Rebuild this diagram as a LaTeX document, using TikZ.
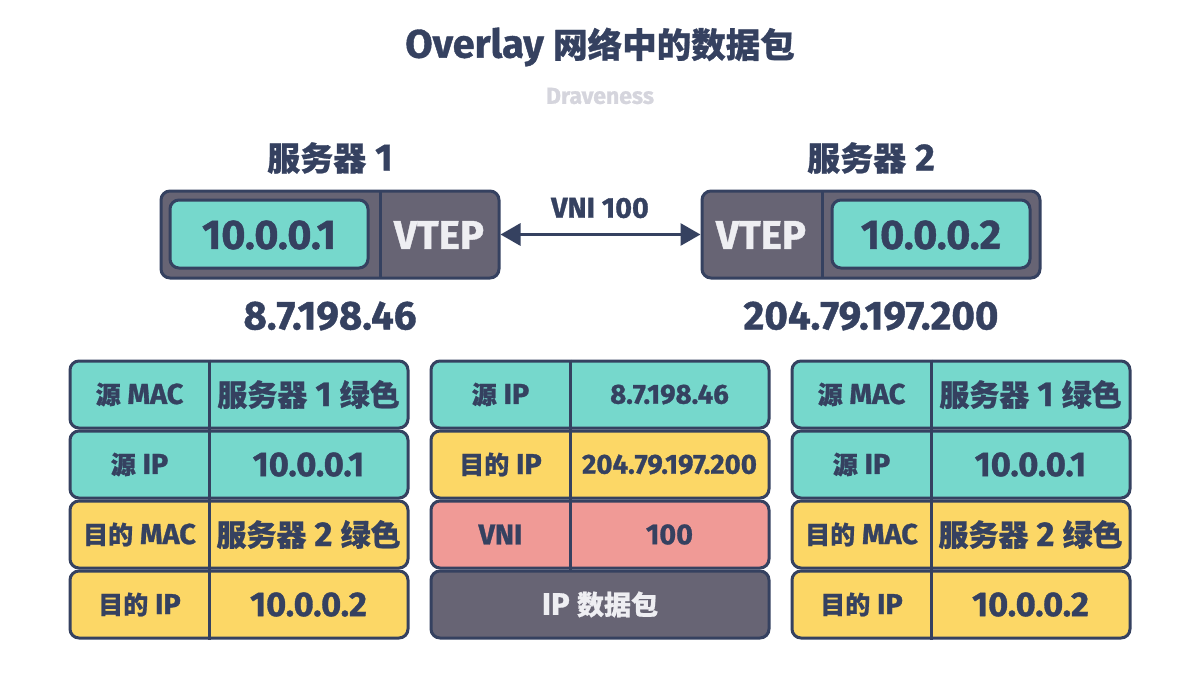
\documentclass[tikz,border=0pt]{standalone}
\usepackage{fontspec}
\setmainfont{Fira Sans}[Scale=1.15, BoldFeatures={FakeBold=1}]
\newfontfamily\cjk{Noto Sans CJK SC}[BoldFeatures={FakeBold=0.8}]
\usetikzlibrary{arrows.meta,calc}
\definecolor{navy}{HTML}{354160}
\definecolor{tealfill}{HTML}{76D8CC}
\definecolor{yellowfill}{HTML}{FCD766}
\definecolor{pinkfill}{HTML}{F09A96}
\definecolor{grayfill}{HTML}{676474}
\definecolor{lighttext}{HTML}{EEEEF2}
\definecolor{subtitle}{HTML}{D5D5DD}
\newcommand\zh[1]{{\cjk #1}}
\newcommand\fs[1]{\bfseries\fontsize{#1}{#1}\selectfont}
\tikzset{
	box/.style={draw=navy, line width=3pt, rounded corners=9pt, inner sep=0pt},
	cell/.style={box, minimum width=338pt, minimum height=67pt},
	divider/.style={draw=navy, line width=3pt},
	lab/.style={text=navy, inner sep=0pt, font=\fs{25}},
	val/.style={text=navy, inner sep=0pt, font=\fs{30}},
}
% one row of a packet table: name, x, y, fill, left text, right text
\newcommand\pktrow[6]{%
	\node[cell, fill=#4] (#1) at (#2,#3) {};
	\draw[divider] ($(#1.north)+(-30,0)$) -- ($(#1.south)+(-30,0)$);
	\node[lab] (#1-l) at ($(#1.center)+(-99.5,0)$) {#5};
	\node[val] (#1-r) at ($(#1.center)+(69.5,0)$) {#6};
}

\begin{document}
\begin{tikzpicture}[x=1pt, y=-1pt]
			%%%%% START %%%%%
			\useasboundingbox[fill=white] (0,0) rectangle (1200,680);
			
			\node[text=navy, inner sep=0pt, font=\fs{34.5}] (title) at (600,47) {Overlay \zh{网络中的数据包}};
			\node[text=subtitle, inner sep=0pt, font=\fs{20}] (author) at (600,96) {Draveness};
			
			% server 1
			\node[text=navy, inner sep=0pt, font=\fs{33}] (name1) at (330,158) {\zh{服务器} 1};
			\node[box, fill=grayfill, minimum width=338pt, minimum height=87pt] (srv1) at (330,234.5) {};
			\draw[divider] (380,191) -- (380,278);
			\node[box, fill=tealfill, minimum width=198pt, minimum height=68pt] (host1) at (269,234) {};
			\node[val, font=\fs{36}] (ip1) at (269,235) {10.0.0.1};
			\node[text=lighttext, inner sep=0pt, font=\fs{35}] (vtep1) at (439,235) {VTEP};
			\node[text=navy, inner sep=0pt, font=\fs{35}] (pub1) at (330,316) {8.7.198.46};
			
			% server 2
			\node[text=navy, inner sep=0pt, font=\fs{33}] (name2) at (871,158) {\zh{服务器} 2};
			\node[box, fill=grayfill, minimum width=338pt, minimum height=87pt] (srv2) at (871,234.5) {};
			\draw[divider] (822,191) -- (822,278);
			\node[box, fill=tealfill, minimum width=198pt, minimum height=68pt] (host2) at (931,234) {};
			\node[val, font=\fs{36}] (ip2) at (931,235) {10.0.0.2};
			\node[text=lighttext, inner sep=0pt, font=\fs{35}] (vtep2) at (761,235) {VTEP};
			\node[text=navy, inner sep=0pt, font=\fs{35}] (pub2) at (871,316) {204.79.197.200};
			
			% tunnel
			\draw[navy, line width=3pt, {Triangle[length=20pt, width=22pt]}-{Triangle[length=20pt, width=22pt]}] (srv1.east) -- (srv2.west);
			\node[text=navy, inner sep=0pt, font=\fs{25}] (vni) at (600,208) {VNI 100};
			
			% inner packet, left
			\pktrow{la}{239}{394.5}{tealfill}{\zh{源} MAC}{\zh{服务器} 1 \zh{绿色}}
			\pktrow{lb}{239}{464.5}{tealfill}{\zh{源} IP}{10.0.0.1}
			\pktrow{lc}{239}{534.5}{yellowfill}{\zh{目的} MAC}{\zh{服务器} 2 \zh{绿色}}
			\pktrow{ld}{239}{604.5}{yellowfill}{\zh{目的} IP}{10.0.0.2}
			
			% outer packet, middle
			\pktrow{ma}{600}{394.5}{tealfill}{\zh{源} IP}{\fs{24}8.7.198.46}
			\pktrow{mb}{600}{464.5}{yellowfill}{\zh{目的} IP}{\fs{24}204.79.197.200}
			\pktrow{mc}{600}{534.5}{pinkfill}{VNI}{\fs{25}100}
			\node[cell, fill=grayfill] (md) at (600,604.5) {};
			\node[text=lighttext, inner sep=0pt, font=\fs{27}] (md-l) at (md.center) {IP \zh{数据包}};
			
			% inner packet, right
			\pktrow{ra}{961}{394.5}{tealfill}{\zh{源} MAC}{\zh{服务器} 1 \zh{绿色}}
			\pktrow{rb}{961}{464.5}{tealfill}{\zh{源} IP}{10.0.0.1}
			\pktrow{rc}{961}{534.5}{yellowfill}{\zh{目的} MAC}{\zh{服务器} 2 \zh{绿色}}
			\pktrow{rd}{961}{604.5}{yellowfill}{\zh{目的} IP}{10.0.0.2}
			%%%%% END %%%%%
\end{tikzpicture}
\end{document}
